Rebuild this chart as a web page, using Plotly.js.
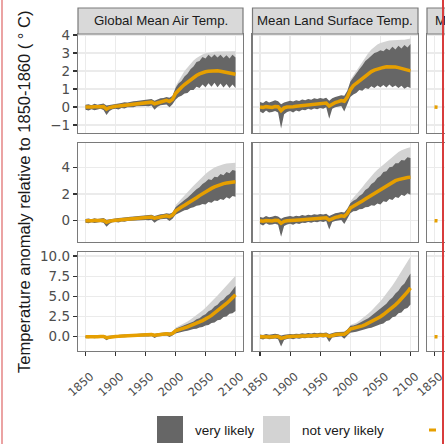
<!DOCTYPE html>
<html><head><meta charset="utf-8">
<script src="https://cdn.plot.ly/plotly-3.0.1.min.js"></script>
<style>
html,body{margin:0;padding:0;background:#fff;overflow:hidden;width:445px;height:444px;}
#plot{position:absolute;left:0;top:0;width:620px;height:444px;}
.edge{position:absolute;top:0;height:444px;}
</style></head><body>
<div id="plot"></div>
<div class="edge" style="left:1px;width:2px;background:#eba3a3"></div>
<div class="edge" style="left:442px;width:2px;background:#d83c3c"></div>
<script>
// ---- data ----
const columns = ["Global Mean Air Temp.", "Mean Land Surface Temp.", "Mean Sea Surface Temp."];
const scenarios = ["RCP2.6", "RCP4.5", "RCP8.5"];
const xTicks = [1850, 1900, 1950, 2000, 2050, 2100];
const histYears = [1850,1855,1860,1865,1870,1875,1880,1885,1890,1895,1900,1905,1910,1915,1920,1925,1930,1935,1940,1945,1950,1955,1960,1965,1970,1975,1980,1985,1990,1995];
const projYears = [2000,2005,2010,2015,2020,2025,2030,2035,2040,2045,2050,2055,2060,2065,2070,2075,2080,2085,2090,2095,2100];

const airHistMid = [0.00,-0.02,0.00,0.02,0.00,0.02,0.03,-0.12,-0.03,0.02,0.04,0.05,0.07,0.10,0.12,0.14,0.16,0.18,0.20,0.22,0.23,0.25,0.27,0.18,0.24,0.29,0.33,0.37,0.30,0.42];
const airHistLo  = [-0.15,-0.20,-0.12,-0.18,-0.14,-0.10,-0.16,-0.45,-0.22,-0.12,-0.10,-0.14,-0.06,-0.08,-0.02,0.00,-0.02,0.04,0.02,0.05,0.06,0.04,0.08,-0.15,0.02,0.10,0.12,0.14,-0.02,0.15];
const airHistHi  = [0.12,0.16,0.10,0.18,0.12,0.15,0.20,0.08,0.12,0.16,0.18,0.20,0.22,0.26,0.25,0.30,0.32,0.34,0.36,0.40,0.38,0.42,0.45,0.35,0.42,0.48,0.50,0.55,0.52,0.62];

const landHistMid = [0.00,-0.03,0.02,0.00,-0.02,0.03,0.02,-0.20,-0.05,0.00,0.03,0.02,0.04,0.06,0.08,0.10,0.12,0.14,0.16,0.17,0.18,0.20,0.22,0.05,0.18,0.25,0.30,0.36,0.32,0.55];
const landHistLo  = [-0.25,-0.35,-0.20,-0.30,-0.28,-0.22,-0.30,-1.20,-0.40,-0.28,-0.22,-0.30,-0.20,-0.25,-0.15,-0.18,-0.10,-0.15,-0.08,-0.12,-0.05,-0.10,-0.02,-0.65,-0.10,-0.02,0.02,0.05,-0.25,0.15];
const landHistHi  = [0.28,0.22,0.35,0.25,0.30,0.38,0.32,0.15,0.25,0.32,0.35,0.30,0.38,0.34,0.42,0.38,0.45,0.40,0.48,0.44,0.50,0.46,0.52,0.35,0.48,0.55,0.60,0.65,0.62,0.90];

const seaYears = [1850, 1855];
const seaHistMid = [0.00, -0.01];

// RCP2.6
const airMid26 = [0.75,0.95,1.10,1.25,1.38,1.52,1.64,1.75,1.84,1.91,1.96,1.99,2.01,2.02,2.01,1.99,1.96,1.93,1.89,1.86,1.82];
const airLo26  = [0.40,0.55,0.62,0.75,0.78,0.95,0.95,1.12,1.05,1.25,1.10,1.32,1.12,1.35,1.10,1.30,1.08,1.28,1.05,1.25,1.05];
const airHi26  = [1.05,1.30,1.45,1.70,1.85,2.10,2.25,2.50,2.55,2.78,2.70,2.90,2.75,2.92,2.75,2.90,2.72,2.88,2.70,2.90,2.75];
const airNvl26 = [1.15,1.45,1.75,2.00,2.20,2.40,2.58,2.72,2.83,2.92,2.98,3.02,3.05,3.07,3.08,3.09,3.10,3.10,3.10,3.10,3.10];
const landMid26 = [0.95,1.18,1.32,1.46,1.60,1.74,1.86,1.97,2.05,2.11,2.16,2.20,2.23,2.24,2.24,2.22,2.19,2.15,2.11,2.06,2.01];
const landLo26  = [0.55,0.70,0.78,0.95,0.90,1.05,1.00,1.15,1.05,1.20,1.10,1.22,1.08,1.25,1.10,1.20,1.05,1.18,1.02,1.12,1.05];
const landHi26  = [1.40,1.65,1.85,2.10,2.30,2.55,2.70,2.85,3.00,3.05,3.15,3.10,3.25,3.15,3.35,3.20,3.40,3.25,3.45,3.30,3.50];
const landNvl26 = [1.50,1.75,2.00,2.28,2.52,2.78,3.00,3.20,3.35,3.47,3.56,3.62,3.66,3.69,3.71,3.72,3.73,3.74,3.74,3.75,3.80];
// RCP4.5
const airMid45 = [0.72,0.90,1.02,1.15,1.28,1.42,1.56,1.72,1.88,2.03,2.17,2.30,2.42,2.53,2.63,2.71,2.78,2.83,2.87,2.90,2.92];
const airLo45  = [0.45,0.58,0.65,0.78,0.82,0.95,1.00,1.12,1.15,1.25,1.22,1.40,1.35,1.52,1.48,1.62,1.55,1.75,1.65,1.85,1.80];
const airHi45  = [1.00,1.20,1.35,1.55,1.72,1.95,2.10,2.35,2.50,2.75,2.90,3.10,3.05,3.30,3.25,3.50,3.40,3.65,3.55,3.80,3.75];
const airNvl45 = [1.15,1.38,1.62,1.88,2.12,2.38,2.62,2.86,3.08,3.30,3.50,3.68,3.84,3.98,4.08,4.17,4.23,4.28,4.31,4.33,4.34];
const landMid45 = [0.95,1.10,1.22,1.35,1.48,1.62,1.76,1.90,2.05,2.20,2.35,2.50,2.65,2.78,2.90,3.00,3.08,3.15,3.20,3.23,3.25];
const landLo45  = [0.55,0.70,0.72,0.85,0.88,1.00,1.02,1.15,1.12,1.28,1.22,1.45,1.40,1.62,1.55,1.78,1.70,1.95,1.85,2.05,1.95];
const landHi45  = [1.30,1.50,1.60,1.85,2.00,2.30,2.45,2.75,2.90,3.20,3.35,3.65,3.70,4.00,4.05,4.30,4.30,4.55,4.50,4.75,4.70];
const landNvl45 = [1.45,1.70,1.95,2.22,2.50,2.80,3.08,3.35,3.60,3.82,4.02,4.22,4.42,4.62,4.82,5.00,5.15,5.28,5.38,5.45,5.50];
// RCP8.5
const airMid85 = [0.72,0.88,0.98,1.10,1.22,1.35,1.50,1.66,1.83,2.00,2.17,2.40,2.65,2.92,3.20,3.50,3.80,4.12,4.45,4.80,5.20];
const airLo85  = [0.40,0.52,0.58,0.68,0.75,0.82,0.95,1.00,1.15,1.20,1.40,1.45,1.70,1.75,2.05,2.10,2.45,2.50,2.85,2.90,3.20];
const airHi85  = [1.00,1.15,1.25,1.42,1.55,1.75,1.90,2.15,2.30,2.60,2.80,3.15,3.35,3.75,3.95,4.40,4.60,5.05,5.30,5.80,6.30];
const airNvl85 = [1.10,1.28,1.45,1.65,1.88,2.12,2.38,2.65,2.95,3.25,3.58,3.93,4.30,4.70,5.10,5.50,5.92,6.33,6.75,7.15,7.55];
const landMid85 = [0.95,1.05,1.12,1.22,1.35,1.50,1.68,1.88,2.08,2.28,2.48,2.75,3.02,3.32,3.62,3.95,4.30,4.68,5.08,5.55,6.05];
const landLo85  = [0.50,0.55,0.62,0.72,0.82,0.92,1.05,1.12,1.30,1.38,1.55,1.65,1.95,2.05,2.40,2.50,2.90,3.00,3.45,3.55,4.00];
const landHi85  = [1.35,1.40,1.50,1.70,1.85,2.10,2.30,2.60,2.80,3.15,3.40,3.80,4.10,4.55,4.85,5.35,5.70,6.25,6.60,7.25,7.85];
const landNvl85 = [1.45,1.55,1.72,1.98,2.25,2.55,2.88,3.22,3.58,3.98,4.40,4.85,5.32,5.82,6.35,6.90,7.48,8.08,8.70,9.30,9.90];

const legendLabels = ["very likely", "not very likely"];

// ---- assembly ----
const hist = [
  {mid: airHistMid, lo: airHistLo, hi: airHistHi},
  {mid: landHistMid, lo: landHistLo, hi: landHistHi}
];
const proj = [
  [{mid: airMid26, lo: airLo26, hi: airHi26, nvl: airNvl26}, {mid: landMid26, lo: landLo26, hi: landHi26, nvl: landNvl26}],
  [{mid: airMid45, lo: airLo45, hi: airHi45, nvl: airNvl45}, {mid: landMid45, lo: landLo45, hi: landHi45, nvl: landNvl45}],
  [{mid: airMid85, lo: airLo85, hi: airHi85, nvl: airNvl85}, {mid: landMid85, lo: landLo85, hi: landHi85, nvl: landNvl85}]
];

const W = 620, H = 444;
const px = v => v / W, py = v => 1 - v / H;
const colPx = [[78, 243], [252.5, 418], [427, 592.5]];
const rowPx = [[34, 133], [143, 242], [252, 351]];
const yRanges = [[-1.444, 4.056], [-1.595, 5.82], [-1.77, 10.5]];
const yDticks = [1, 2, 2.5];
const FONT = "Liberation Sans, Arial, Helvetica, sans-serif";
const TICKFONT = "DejaVu Sans, Liberation Sans, sans-serif";
const ORANGE = "#E69F00", DARK = "#666666", LIGHT = "#d3d3d3";
const BORDER = "#7a7a7a", GRID = "#ebebeb";

function poly(x, lo, hi) {
  return {x: x.concat(x.slice().reverse()), y: hi.concat(lo.slice().reverse())};
}

const traces = [];
const layout = {
  width: W, height: H, margin: {l: 0, r: 0, t: 0, b: 0},
  paper_bgcolor: "#fff", plot_bgcolor: "#fff", showlegend: false,
  font: {family: FONT, color: "#4d4d4d"},
  shapes: [], annotations: []
};

for (let r = 0; r < 3; r++) {
  for (let c = 0; c < 3; c++) {
    const n = r * 3 + c + 1;
    const xa = "x" + (n === 1 ? "" : n), ya = "y" + (n === 1 ? "" : n);
    layout["xaxis" + (n === 1 ? "" : n)] = {
      domain: [px(colPx[c][0]), px(colPx[c][1])], range: [1837.5, 2112.5],
      anchor: ya, tickmode: "array", tickvals: xTicks, ticktext: xTicks.map(String),
      showticklabels: r === 2, ticks: r === 2 ? "outside" : "", ticklen: 4, tickwidth: 1.2, tickcolor: "#333",
      tickangle: -42, ticklabelstandoff: 9, ticklabelshift: 5,
      tickfont: {size: 11.5, color: "#4d4d4d", family: TICKFONT},
      showline: true, mirror: true, linecolor: BORDER, linewidth: 1.2,
      showgrid: true, gridcolor: GRID, gridwidth: 1.3, zeroline: false, fixedrange: true
    };
    layout["yaxis" + (n === 1 ? "" : n)] = {
      domain: [py(rowPx[r][1]), py(rowPx[r][0])], range: yRanges[r],
      anchor: xa, tick0: 0, dtick: yDticks[r], tickformat: r === 2 ? ".1f" : "",
      showticklabels: c === 0, ticks: c === 0 ? "outside" : "", ticklen: 4, tickwidth: 1.2, tickcolor: "#333",
      tickfont: {size: 13.5, color: "#4d4d4d", family: TICKFONT},
      showline: true, mirror: true, linecolor: BORDER, linewidth: 1.2,
      showgrid: true, gridcolor: GRID, gridwidth: 1.3, zeroline: false, fixedrange: true
    };
    if (c < 2) {
      const h = hist[c], p = proj[r][c];
      const L = poly(projYears, p.mid, p.nvl);
      traces.push({type: "scatter", mode: "lines", x: L.x, y: L.y, xaxis: xa, yaxis: ya,
        fill: "toself", fillcolor: LIGHT, line: {width: 0, color: LIGHT}, hoverinfo: "skip"});
      const allYears = histYears.concat(projYears);
      const D = poly(allYears, h.lo.concat(p.lo), h.hi.concat(p.hi));
      traces.push({type: "scatter", mode: "lines", x: D.x, y: D.y, xaxis: xa, yaxis: ya,
        fill: "toself", fillcolor: DARK, line: {width: 0, color: DARK}, hoverinfo: "skip"});
      traces.push({type: "scatter", mode: "lines", x: allYears, y: h.mid.concat(p.mid), xaxis: xa, yaxis: ya,
        line: {color: ORANGE, width: 3.5}, hoverinfo: "skip"});
    } else {
      traces.push({type: "scatter", mode: "lines", x: seaYears, y: seaHistMid, xaxis: xa, yaxis: ya,
        line: {color: ORANGE, width: 3.5}, hoverinfo: "skip"});
    }
  }
}

// strips
for (let c = 0; c < 3; c++) {
  layout.shapes.push({type: "rect", xref: "paper", yref: "paper",
    x0: px(colPx[c][0]), x1: px(colPx[c][1]), y0: py(34), y1: py(8),
    fillcolor: "#d9d9d9", line: {color: BORDER, width: 1.2}});
  layout.annotations.push({xref: "paper", yref: "paper", x: px((colPx[c][0] + colPx[c][1]) / 2), y: py(21),
    text: columns[c], showarrow: false, xanchor: "center", yanchor: "middle",
    font: {family: FONT, size: 13.3, color: "#1a1a1a"}});
}

// y title
layout.annotations.push({xref: "paper", yref: "paper", x: px(24), y: py(192),
  text: "Temperature anomaly relative to 1850-1860 ( ° C)", textangle: -90, showarrow: false,
  xanchor: "center", yanchor: "middle", font: {family: FONT, size: 16.5, color: "#1a1a1a"}});

// legend
layout.shapes.push({type: "rect", xref: "paper", yref: "paper", x0: px(157), x1: px(183), y0: py(443), y1: py(416),
  fillcolor: DARK, line: {width: 0}});
layout.shapes.push({type: "rect", xref: "paper", yref: "paper", x0: px(263), x1: px(290), y0: py(443), y1: py(416),
  fillcolor: LIGHT, line: {width: 0}});
layout.shapes.push({type: "rect", xref: "paper", yref: "paper", x0: px(429), x1: px(436), y0: py(431.5), y1: py(428.5),
  fillcolor: ORANGE, line: {width: 0}});
layout.annotations.push({xref: "paper", yref: "paper", x: px(193), y: py(430), text: legendLabels[0],
  showarrow: false, xanchor: "left", yanchor: "middle", font: {family: FONT, size: 13.5, color: "#1a1a1a"}});
layout.annotations.push({xref: "paper", yref: "paper", x: px(300), y: py(430), text: legendLabels[1],
  showarrow: false, xanchor: "left", yanchor: "middle", font: {family: FONT, size: 13.5, color: "#1a1a1a"}});

Plotly.newPlot("plot", traces, layout, {staticPlot: true, displayModeBar: false});
</script>
</body></html>
